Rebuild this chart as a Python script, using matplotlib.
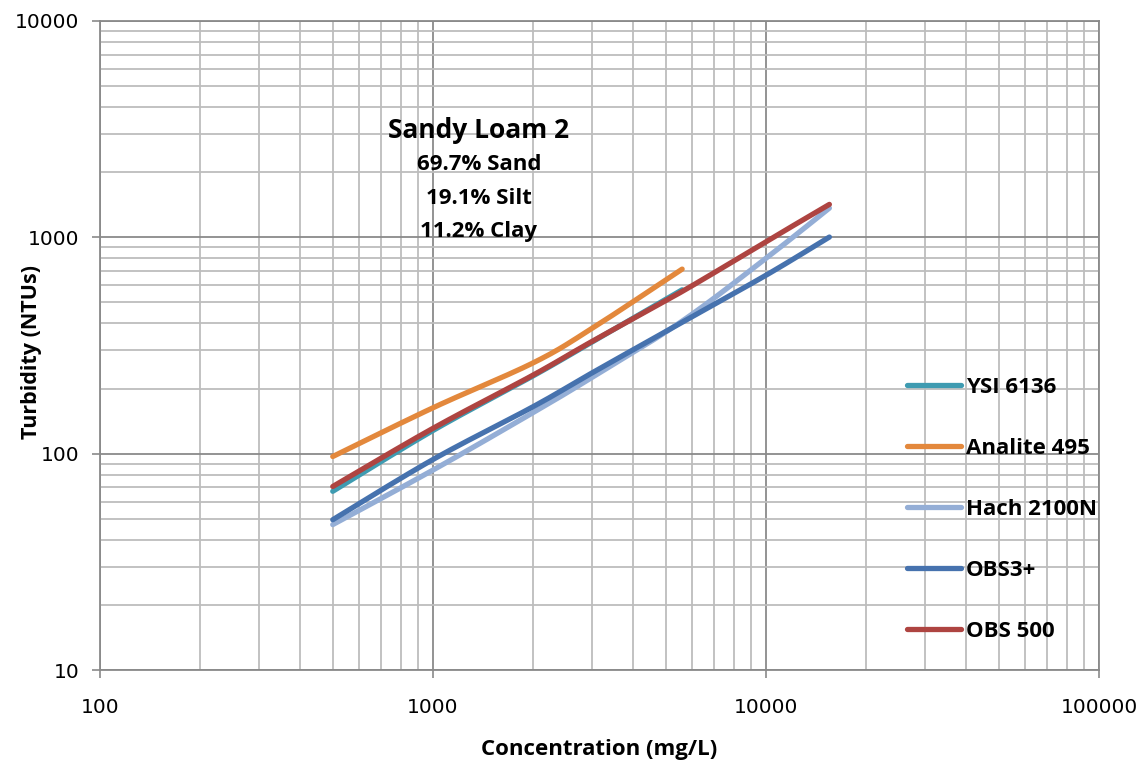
import numpy as np
import matplotlib
matplotlib.use("Agg")
import matplotlib.pyplot as plt
from matplotlib.ticker import LogLocator, FixedLocator, NullFormatter, FixedFormatter

# Sediment concentration (mg/L) and turbidity readings (NTU) per instrument
conc_short = [500, 1000, 2000, 3000, 5600]
conc_long = [500, 1000, 2000, 3000, 5600, 10000, 15500]

ysi_6136 = [67, 128, 229, 328, 572]
analite_495 = [97, 163, 263, 379, 713]
hach_2100n = [47, 84, 155, 225, 410, 800, 1365]
obs3_plus = [49.5, 94, 165, 236, 405, 668, 1003]
obs_500 = [70.5, 131, 231, 330, 562, 955, 1420]

series_names = ["YSI 6136", "Analite 495", "Hach 2100N", "OBS3+", "OBS 500"]
series_x = [conc_short, conc_short, conc_long, conc_long, conc_long]
series_y = [ysi_6136, analite_495, hach_2100n, obs3_plus, obs_500]
series_colors = ["#3E9BB1", "#E3883C", "#94AED6", "#4672AE", "#AE4441"]

x_ticks = [100, 1000, 10000, 100000]
y_ticks = [10, 100, 1000, 10000]
x_tick_labels = ["100", "1000", "10000", "100000"]
y_tick_labels = ["10", "100", "1000", "10000"]

title_lines = ["Sandy Loam 2", "69.7% Sand", "19.1% Silt", "11.2% Clay"]


def smooth_loglog(xs, ys, steps=40):
    """Catmull-Rom smoothing in log-log space, like a spreadsheet 'smoothed line'."""
    lx = np.log10(np.asarray(xs, float))
    ly = np.log10(np.asarray(ys, float))
    P = np.column_stack([lx, ly])
    P = np.vstack([P[0], P, P[-1]])
    out = []
    t = np.linspace(0, 1, steps)
    for i in range(1, len(P) - 2):
        p0, p1, p2, p3 = P[i - 1], P[i], P[i + 1], P[i + 2]
        tt = t[:, None]
        seg = 0.5 * ((2 * p1) + (-p0 + p2) * tt
                     + (2 * p0 - 5 * p1 + 4 * p2 - p3) * tt ** 2
                     + (-p0 + 3 * p1 - 3 * p2 + p3) * tt ** 3)
        out.append(seg if i == 1 else seg[1:])
    seg = np.vstack(out)
    return 10 ** seg[:, 0], 10 ** seg[:, 1]


W, H = 1148, 764
fig = plt.figure(figsize=(W / 100, H / 100), dpi=100)
ax = fig.add_axes([100 / W, 1 - 670 / H, 999 / W, 649 / H])

ax.set_xscale("log")
ax.set_yscale("log")
ax.set_xlim(100, 100000)
ax.set_ylim(10, 10000)

minor_col = "#BDBDBD"
major_col = "#8A8A8A"

ax.xaxis.set_major_locator(FixedLocator(x_ticks))
ax.yaxis.set_major_locator(FixedLocator(y_ticks))
ax.xaxis.set_major_formatter(FixedFormatter(x_tick_labels))
ax.yaxis.set_major_formatter(FixedFormatter(y_tick_labels))
ax.xaxis.set_minor_locator(LogLocator(base=10, subs=np.arange(2, 10)))
ax.yaxis.set_minor_locator(LogLocator(base=10, subs=np.arange(2, 10)))
ax.xaxis.set_minor_formatter(NullFormatter())
ax.yaxis.set_minor_formatter(NullFormatter())

ax.grid(which="minor", color=minor_col, linewidth=1.3, zorder=0)
ax.grid(which="major", color=major_col, linewidth=1.3, zorder=0)
ax.set_axisbelow(True)

for s in ax.spines.values():
    s.set_color(major_col)
    s.set_linewidth(1.3)

ax.tick_params(which="major", direction="out", length=6, width=1.2, color=major_col,
               labelsize=14.5, labelcolor="black")
ax.tick_params(axis="x", which="major", pad=14)
ax.tick_params(axis="y", which="major", pad=9)
ax.tick_params(which="minor", length=0)
for lab in ax.get_xticklabels() + ax.get_yticklabels():
    lab.set_fontfamily("DejaVu Sans")

for name, xs, ys, col in zip(series_names, series_x, series_y, series_colors):
    sx, sy = smooth_loglog(xs, ys)
    ax.plot(sx, sy, color=col, linewidth=3.8, solid_capstyle="round",
            solid_joinstyle="round", label=name, zorder=3)

bold_font = "Open Sans"
ax.set_xlabel("Concentration (mg/L)", labelpad=16,
              family=bold_font, fontweight="bold", fontsize=16)
fig.text(32 / W, 1 - 352 / H, "Turbidity (NTUs)", rotation=90, ha="center", va="center",
         family=bold_font, fontweight="bold", fontsize=15.5)

# Soil composition annotation
cx = 479 / W
fig.text(cx, 1 - 131 / H, title_lines[0], ha="center", va="center",
         family=bold_font, fontweight="bold", fontsize=19)
for txt, ypix in zip(title_lines[1:], [165, 198, 231]):
    fig.text(cx, 1 - ypix / H, txt, ha="center", va="center",
             family=bold_font, fontweight="bold", fontsize=16)

leg = ax.legend(loc="upper left", bbox_to_anchor=(907 / W, 1 - 377 / H),
                bbox_transform=fig.transFigure, frameon=False,
                prop=dict(family=bold_font, weight="bold", size=16),
                handlelength=2.45, handletextpad=0.2, labelspacing=1.80,
                borderpad=0, borderaxespad=0)
for line in leg.get_lines():
    line.set_linewidth(3.8)
    line.set_solid_capstyle("round")

fig.savefig("out.png", dpi=100)
